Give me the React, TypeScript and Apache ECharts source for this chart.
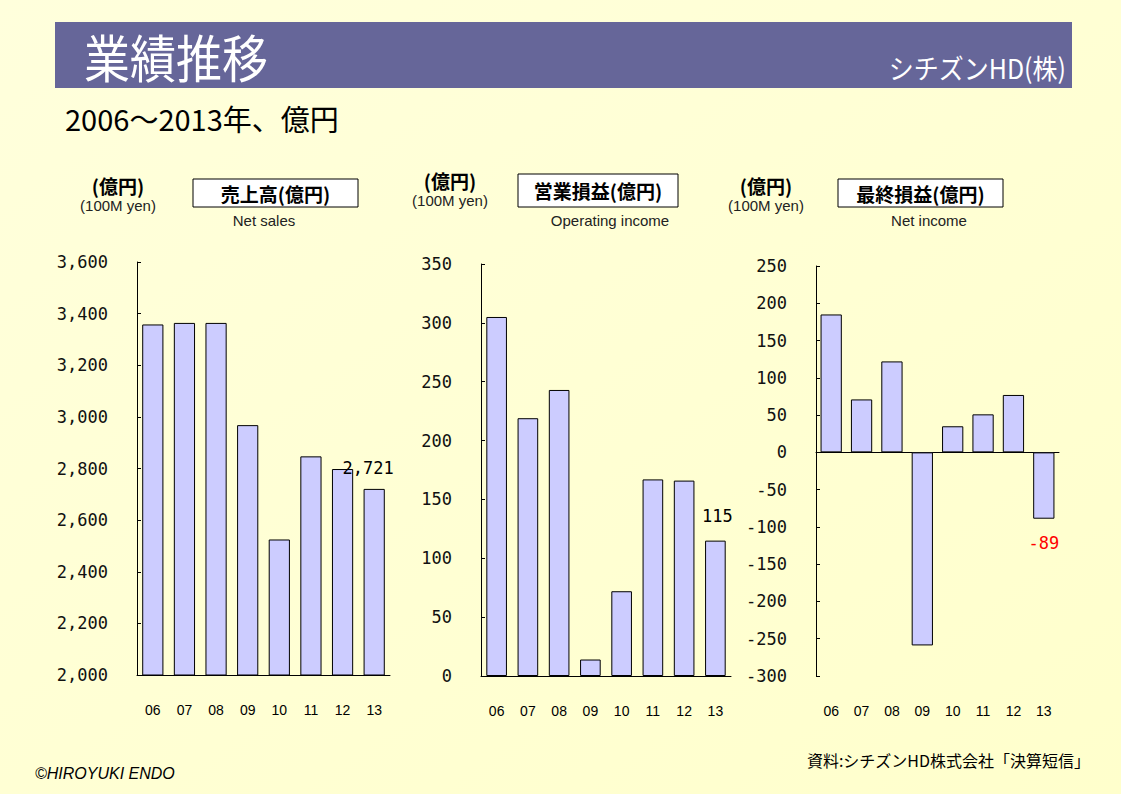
import React, { useEffect, useRef } from "react";
import * as echarts from "echarts";

const years = ["06", "07", "08", "09", "10", "11", "12", "13"];
const netSales = [3358, 3364, 3364, 2968, 2525, 2847, 2798, 2721];
const operatingIncome = [305, 219, 243, 14, 72, 167, 166, 115];
const netIncome = [185, 71, 122, -259, 35, 51, 77, -89];

const salesTicks = { min: 2000, max: 3600, interval: 200 };
const opTicks = { min: 0, max: 350, interval: 50 };
const netTicks = { min: -300, max: 250, interval: 50 };

const BAR_FILL = "#CCCCFF";
const TICK_FONT = "'DejaVu Sans Mono', monospace";
const JP_FONT = "'Noto Sans CJK JP', sans-serif";
const LATIN_FONT = "'Liberation Sans', Arial, sans-serif";

function fmt(v: number) {
  const s = Math.abs(v).toString().replace(/\B(?=(\d{3})+(?!\d))/g, ",");
  return (v < 0 ? "-" : "") + s;
}

function barData(values: number[], labelCfg: any) {
  return values.map((v, i) =>
    i === values.length - 1 ? { value: v, label: { show: true, ...labelCfg } } : { value: v }
  );
}

function header(cx: number, unitY: number, yenY: number, boxL: number, boxR: number, boxT: number, boxB: number, title: string, sub: string, subX: number) {
  return [
    { type: "text", x: cx, y: unitY, style: { text: "(億円)", font: `bold 19px ${JP_FONT}`, fill: "#000", align: "center", verticalAlign: "middle" } },
    { type: "text", x: cx, y: yenY, style: { text: "(100M yen)", font: `15px ${LATIN_FONT}`, fill: "#222", align: "center", verticalAlign: "middle" } },
    { type: "rect", shape: { x: boxL, y: boxT, width: boxR - boxL, height: boxB - boxT }, style: { fill: "#FFFFFF", stroke: "#000", lineWidth: 1 } },
    { type: "text", x: (boxL + boxR) / 2, y: (boxT + boxB) / 2, style: { text: title, font: `bold 19px ${JP_FONT}`, fill: "#000", align: "center", verticalAlign: "middle" } },
    { type: "text", x: subX, y: 220, style: { text: sub, font: `15px ${LATIN_FONT}`, fill: "#222", align: "center", verticalAlign: "middle" } },
  ];
}

export default function App() {
  const ref = useRef<HTMLDivElement>(null);
  useEffect(() => {
    if (!ref.current) return;
    const chart = echarts.init(ref.current, undefined, { renderer: "svg" });

    const yAxisBase = (gridIndex: number, t: any) => ({
      type: "value",
      gridIndex,
      min: t.min,
      max: t.max,
      interval: t.interval,
      splitLine: { show: false },
      axisLine: { show: true, lineStyle: { color: "#000", width: 1 } },
      axisTick: { show: true, inside: true, length: 4, lineStyle: { color: "#000" } },
      axisLabel: { margin: 29, color: "#111", fontSize: 17, fontFamily: TICK_FONT, formatter: (v: number) => fmt(v) },
    });

    const xLabel = { margin: 28, color: "#000", fontSize: 14, fontFamily: LATIN_FONT };

    const barStyle = { color: BAR_FILL, borderColor: "#000", borderWidth: 1 };

    const option: any = {
      animation: false,
      backgroundColor: {
        type: "linear", x: 0, y: 0, x2: 1, y2: 1,
        colorStops: [{ offset: 0, color: "#FFFFDC" }, { offset: 1, color: "#FFFFCC" }],
      },
      grid: [
        { left: 137, top: 262, width: 253, height: 413 },
        { left: 481, top: 264, width: 250, height: 412 },
        { left: 816, top: 266, width: 243, height: 410 },
      ],
      xAxis: [
        { type: "category", gridIndex: 0, data: years, axisLine: { lineStyle: { color: "#000" } }, axisTick: { show: false }, axisLabel: xLabel },
        { type: "category", gridIndex: 1, data: years, axisLine: { lineStyle: { color: "#000" } }, axisTick: { show: false }, axisLabel: xLabel },
        { type: "category", gridIndex: 2, data: years, position: "bottom", axisLine: { show: false, onZero: false }, axisTick: { show: false }, axisLabel: xLabel },
        { type: "category", gridIndex: 2, data: years, axisLine: { show: true, onZero: true, lineStyle: { color: "#000" } }, axisTick: { show: false }, axisLabel: { show: false } },
      ],
      yAxis: [yAxisBase(0, salesTicks), yAxisBase(1, opTicks), yAxisBase(2, netTicks)],
      series: [
        {
          type: "bar", xAxisIndex: 0, yAxisIndex: 0, barWidth: "67%", itemStyle: barStyle,
          data: barData(netSales, { position: "top", distance: 12, offset: [-6, 0], formatter: (p: any) => fmt(p.value), color: "#000", fontSize: 17, fontFamily: TICK_FONT }),
        },
        {
          type: "bar", xAxisIndex: 1, yAxisIndex: 1, barWidth: "66%", itemStyle: barStyle,
          data: barData(operatingIncome, { position: "top", distance: 16, offset: [2, 0], formatter: (p: any) => fmt(p.value), color: "#000", fontSize: 17, fontFamily: TICK_FONT }),
        },
        {
          type: "bar", xAxisIndex: 2, yAxisIndex: 2, barWidth: "70%", itemStyle: barStyle,
          data: barData(netIncome, { position: "bottom", distance: 16, formatter: (p: any) => fmt(p.value), color: "#FF0000", fontSize: 17, fontFamily: TICK_FONT }),
        },
      ],
      graphic: [
        { type: "rect", shape: { x: 55, y: 22, width: 1017, height: 66 }, style: { fill: "#666699" } },
        { type: "text", x: 84, y: 56, scaleY: 1.1, style: { text: "業績推移", font: `46px ${JP_FONT}`, fill: "#FFFFFF", verticalAlign: "middle" } },
        { type: "text", x: 1066, y: 67, scaleY: 1.1, style: { text: "シチズンHD(株)", font: `25px ${JP_FONT}`, fill: "#FFFFFF", align: "right", verticalAlign: "middle" } },
        { type: "text", x: 65, y: 118, style: { text: "2006～2013年、億円", font: `29px ${JP_FONT}`, fill: "#000", verticalAlign: "middle" } },
        ...header(118, 185, 205, 193, 358, 179, 207, "売上高(億円)", "Net sales", 264),
        ...header(450, 180, 200, 518, 678, 174, 207, "営業損益(億円)", "Operating income", 610),
        ...header(766, 185, 205, 838, 1003, 179, 207, "最終損益(億円)", "Net income", 929),
        { type: "text", x: 35, y: 773, style: { text: "©HIROYUKI ENDO", font: `italic 16px ${LATIN_FONT}`, fill: "#000", verticalAlign: "middle" } },
        { type: "text", x: 1090, y: 760, style: { text: "資料:シチズンHD株式会社「決算短信」", font: `16px ${JP_FONT}`, fill: "#000", align: "right", verticalAlign: "middle" } },
      ],
    };
    chart.setOption(option);
    return () => chart.dispose();
  }, []);
  return <div ref={ref} style={{ position: "fixed", left: 0, top: 0, width: 1121, height: 794 }} />;
}
